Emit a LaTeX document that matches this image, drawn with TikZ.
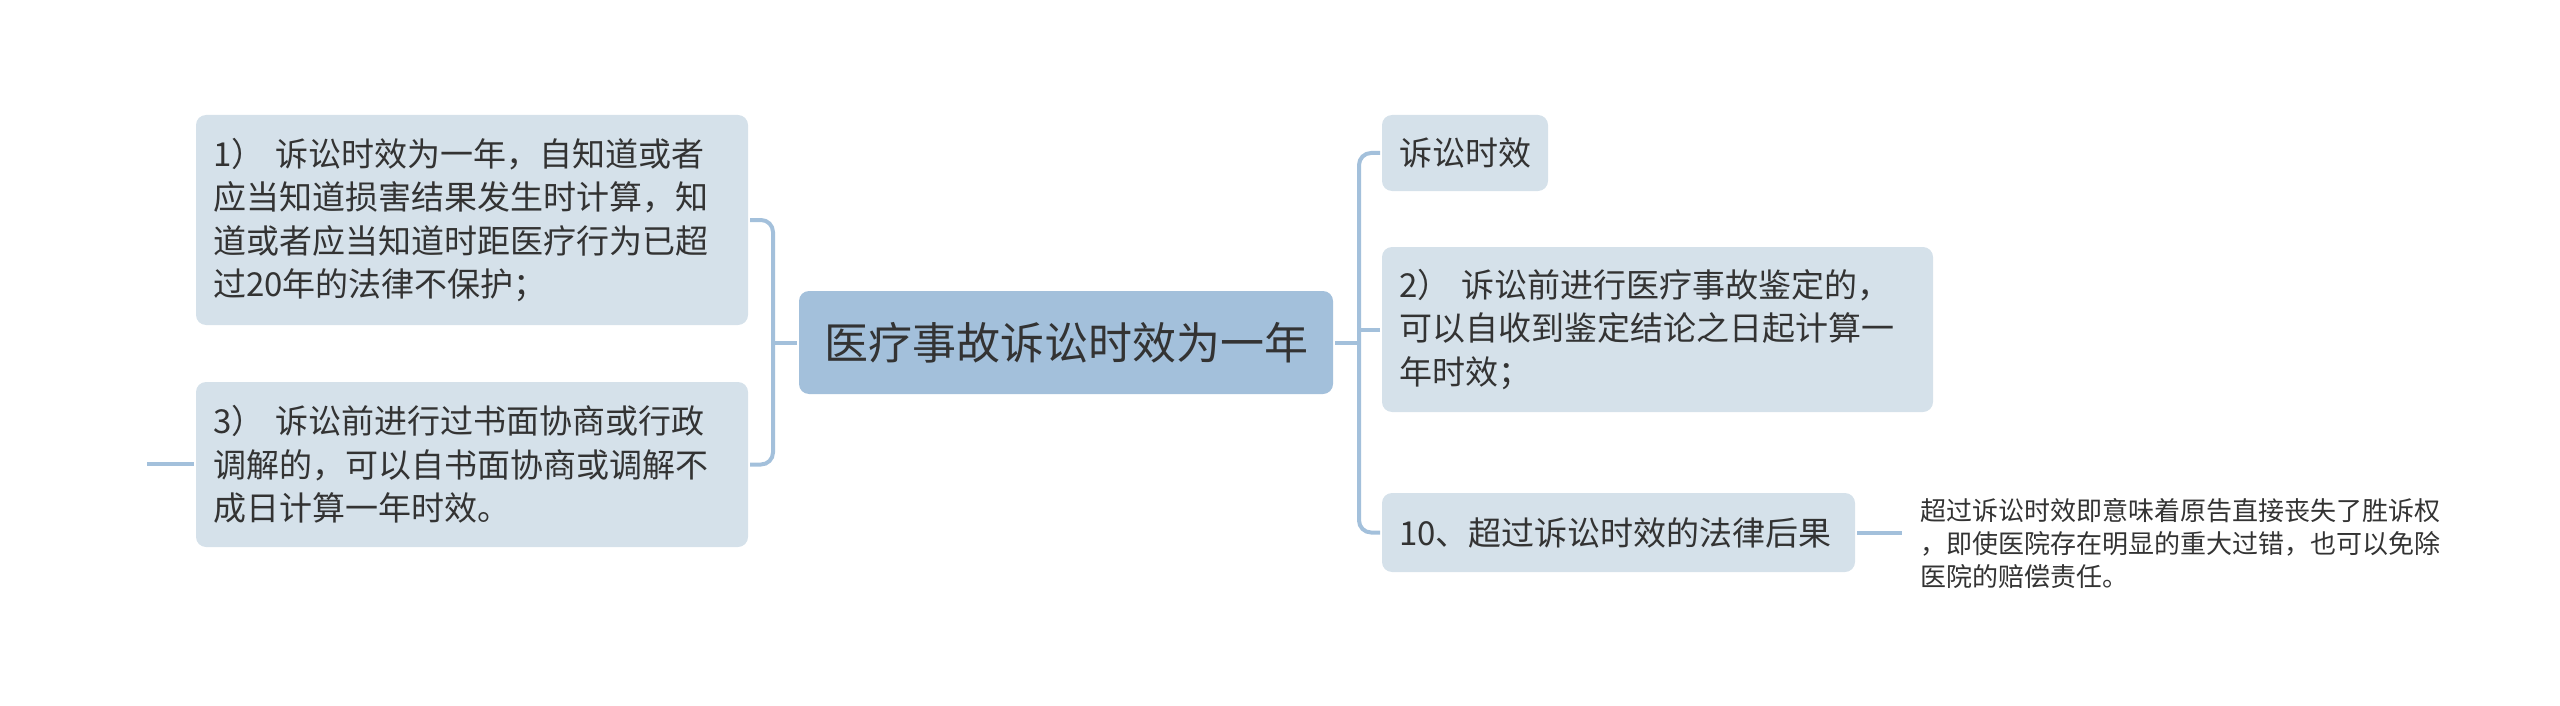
\documentclass[tikz,border=0pt]{standalone}
\usepackage{fontspec}
\setmainfont{Noto Sans CJK SC}
\usetikzlibrary{positioning, calc}
\definecolor{croot}{HTML}{A3C0DB}
\definecolor{cleaf}{HTML}{D5E1EA}
\definecolor{cline}{HTML}{A3C0DB}
\definecolor{ctext}{HTML}{333333}
\tikzset{
  every picture/.style={line width=4pt},
  leaf/.style={fill=cleaf, rounded corners=10pt, anchor=north west, align=left, inner xsep=17pt, inner ysep=0pt,
    text=ctext, font=\fontsize{33}{43.5}\selectfont},
  topic/.style={fill=croot, rounded corners=10pt, anchor=north west, align=center, inner sep=0pt,
    text=ctext, font=\fontsize{44}{52}\selectfont},
  link/.style={draw=cline, line width=4pt, rounded corners=12pt},
  note/.style={anchor=west, align=left, inner xsep=16pt, text=ctext, font=\fontsize{26}{33}\selectfont},
}

\begin{document}
\begin{tikzpicture}[x=1pt, y=-1pt]
  \useasboundingbox (0,0) rectangle (2560,706);
  \node[topic, minimum width=534pt, minimum height=103pt] (root) at (797,289) {医疗事故诉讼时效为一年};
  % left side
  \node[leaf, text width=518pt, minimum height=210pt] (l1) at (194,113)
    {1）\ 诉讼时效为一年，自知道或者\\应当知道损害结果发生时计算，知\\道或者应当知道时距医疗行为已超\\过20年的法律不保护；};
  \node[leaf, text width=518pt, minimum height=165pt] (l3) at (194,380)
    {3）\ 诉讼前进行过书面协商或行政\\调解的，可以自书面协商或调解不\\成日计算一年时效。};
  % right side
  \node[leaf, text width=132pt, minimum height=76pt] (r1) at (1380,113) {诉讼时效};
  \node[leaf, text width=517pt, minimum height=165pt] (r2) at (1380,245)
    {2）\ 诉讼前进行医疗事故鉴定的，\\可以自收到鉴定结论之日起计算一\\年时效；};
  \node[leaf, text width=439pt, minimum height=79pt] (r3) at (1380,491) {10、超过诉讼时效的法律后果};
  \node[note, text width=525pt] (note) at (1902,544)
    {超过诉讼时效即意味着原告直接丧失了胜诉权\\，即使医院存在明显的重大过错，也可以免除\\医院的赔偿责任。};
  % connectors
  \coordinate (lbar) at ($(root.west)+(-24,0)$);
  \coordinate (rbar) at ($(root.east)+(24,0)$);
  \coordinate (stub) at (147,464);
  \draw[link] (root.west) -- (lbar);
  \draw[link] (l1.east) -| (lbar) |- (l3.east);
  \draw[link] (root.east) -- (rbar);
  \draw[link] (r1.west) -| (rbar) |- (r3.west);
  \draw[link] (r2.west) -- (r2.west -| rbar);
  \draw[link] (stub) -- (stub -| l3.west);
  \draw[link] (r3.east) -- (r3.east -| note.west);
\end{tikzpicture}
\end{document}
